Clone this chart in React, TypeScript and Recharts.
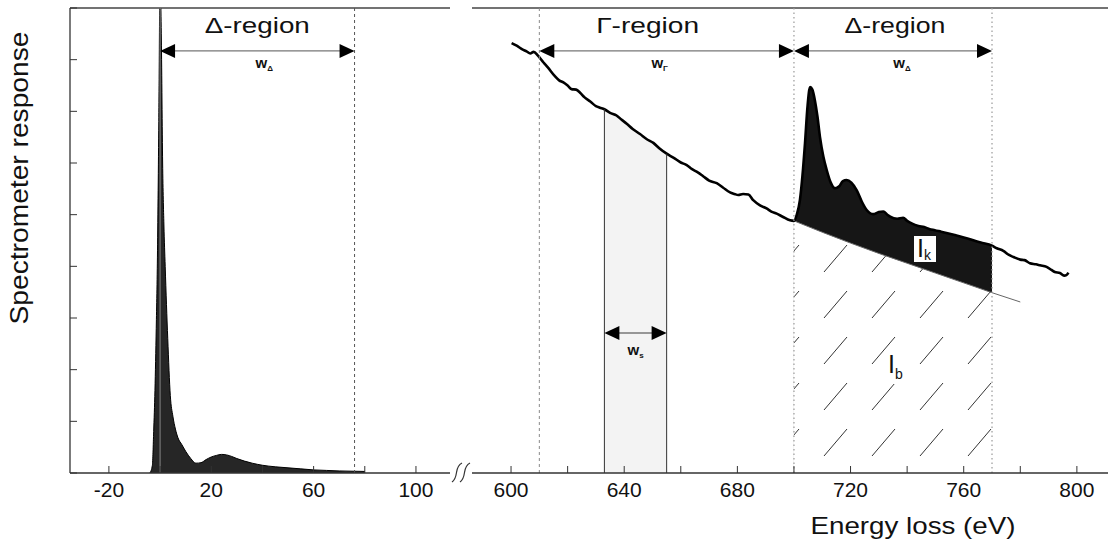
import React from "react";
import { Area, ComposedChart, Line, ReferenceLine, XAxis, YAxis } from "recharts";

const FONT = "Arial, 'Liberation Sans', Helvetica, sans-serif";

// low-loss part: zero-loss peak + plasmon
const lowLossE = [-4, -3, -2.5, -2, -1.5, -1, -0.5, 0, 0.5, 1, 1.5, 2, 3, 4, 5, 6, 7, 8.5, 10, 12, 14, 16, 18, 20, 22, 24, 26, 28, 30, 33, 36, 40, 45, 50, 55, 60, 65, 70, 75, 80];
const lowLossI = [0, 0.15, 0.8, 1.6, 2.8, 4.3, 6.8, 9.6, 8.4, 6.0, 4.8, 4.0, 2.6, 1.5, 1.1, 0.85, 0.68, 0.55, 0.42, 0.28, 0.19, 0.2, 0.26, 0.31, 0.34, 0.36, 0.35, 0.32, 0.28, 0.23, 0.19, 0.15, 0.12, 0.1, 0.08, 0.06, 0.05, 0.04, 0.035, 0.03];

// core-loss part around the edge
const coreE = [600.2, 602, 604, 605.5, 606.8, 608, 609.5, 611.4, 613, 615.5, 617, 618.5, 620, 621.4, 623, 624.4, 626, 628, 630, 631.4, 633, 635, 637.3, 639, 640.9, 643, 645.6, 648, 650.3, 652.5, 655, 657.5, 660, 662.1, 664, 666, 668, 670, 672.7, 675, 677.4, 679, 680.3, 682, 683.9, 685.6, 688, 690.3, 692, 693.9, 696, 698.6, 700, 701, 702.1, 703, 703.9, 704.8, 705.7, 706.5, 707.4, 708.3, 709.2, 710.4, 711.6, 713, 714.5, 716, 717.3, 718.6, 720.3, 722.2, 724, 725.7, 728, 730, 731.6, 733, 734, 736.5, 738.6, 740, 741.6, 744, 746, 748, 749.8, 752, 754.3, 757.2, 760, 763.1, 766, 770, 771.7, 774, 776, 777.6, 780, 781.5, 783.4, 785.5, 787, 789.3, 791, 792.2, 794, 795.5, 796.3, 797];
const coreI = [8.32, 8.27, 8.2, 8.16, 8.12, 8.15, 8.08, 7.95, 7.85, 7.68, 7.6, 7.56, 7.5, 7.43, 7.42, 7.36, 7.27, 7.19, 7.1, 7.07, 7.04, 6.97, 6.92, 6.84, 6.76, 6.66, 6.56, 6.46, 6.39, 6.28, 6.18, 6.1, 6.01, 5.96, 5.88, 5.82, 5.74, 5.66, 5.61, 5.52, 5.43, 5.4, 5.38, 5.4, 5.39, 5.28, 5.18, 5.12, 5.06, 5.02, 4.96, 4.89, 4.88, 5.0, 5.28, 5.75, 6.38, 7.1, 7.47, 7.42, 7.21, 6.9, 6.5, 6.12, 5.86, 5.62, 5.51, 5.55, 5.65, 5.67, 5.62, 5.47, 5.25, 5.09, 5.01, 5.05, 5.06, 5.0, 4.96, 4.92, 4.94, 4.88, 4.83, 4.78, 4.76, 4.72, 4.7, 4.67, 4.64, 4.6, 4.56, 4.51, 4.46, 4.4, 4.35, 4.3, 4.22, 4.18, 4.13, 4.12, 4.06, 4.04, 4.02, 3.99, 3.93, 3.89, 3.87, 3.82, 3.83, 3.88];

// extrapolated background under the edge
const bgE = [700, 710, 720, 730, 740, 750, 760, 770, 780];
const bgI = [4.88, 4.66, 4.45, 4.25, 4.06, 3.87, 3.68, 3.49, 3.31];

// axes
const lowTicks = [-20, 0, 20, 40, 60, 80, 100];
const lowTickLabels = [-20, 20, 60, 100];
const coreTicks = [600, 620, 640, 660, 680, 700, 720, 740, 760, 780, 800];
const coreTickLabels = [600, 640, 680, 720, 760, 800];
const yTicks = [0, 1, 2, 3, 4, 5, 6, 7, 8, 9];

// windows
const lowDelta = [0, 76];
const gammaWin = [610, 700];
const deltaWin = [700, 770];
const sampleWin = [633, 655];
const arrowY = 8.17;
const sampleArrowY = 2.71;

const lowData = lowLossE.map((e, i) => ({ e, v: lowLossI[i] }));
const coreData = coreE.map((e, i) => ({ e, v: coreI[i] }));
const bgData = bgE.map((e, i) => ({ e, v: bgI[i] }));
const edgeData = coreData.filter((d) => d.e >= deltaWin[0] && d.e <= deltaWin[1]);
const sampleData = coreData.filter((d) => d.e >= sampleWin[0] && d.e <= sampleWin[1]);
const bgUnder = bgData.filter((d) => d.e <= deltaWin[1]);
const valueAt = (e: number) => coreData.find((d) => d.e === e)?.v ?? 0;

const AXIS_Y = 473;

const makeTick = (labels: number[]) => (props: any) => {
  const { x, payload } = props;
  if (!labels.includes(payload.value)) return <g />;
  return (
    <text x={x} y={AXIS_Y + 24} textAnchor="middle" fontSize={21} fontFamily={FONT} fill="#111">
      {payload.value}
    </text>
  );
};

type ArrowOpts = { title?: string; titleDx?: number; titleLen?: number; sub: string; subDx?: number; subDy?: number };

function makeArrow(o: ArrowOpts) {
  return (p: any) => {
    const x1 = Math.min(p.x1, p.x2);
    const x2 = Math.max(p.x1, p.x2);
    const y = p.y1;
    const hl = 15;
    const hw = 7;
    const cx = (x1 + x2) / 2;
    return (
      <g>
        <line x1={x1 + hl - 1} x2={x2 - hl + 1} y1={y} y2={y} stroke="#777" strokeWidth={1.4} />
        <polygon points={`${x1},${y} ${x1 + hl},${y - hw} ${x1 + hl},${y + hw}`} fill="#000" />
        <polygon points={`${x2},${y} ${x2 - hl},${y - hw} ${x2 - hl},${y + hw}`} fill="#000" />
        {o.title && (
          <text x={cx + (o.titleDx ?? 0)} y={y - 17.5} textAnchor="middle" fontSize={22} fontFamily={FONT}
            textLength={o.titleLen} lengthAdjust="spacingAndGlyphs" fill="#111">
            {o.title}
          </text>
        )}
        <text x={cx + (o.subDx ?? 0)} y={y + (o.subDy ?? 17.5)} textAnchor="middle" fontFamily={FONT}
          fontWeight="bold" fontSize={15} fill="#111">
          w<tspan fontSize={8} dy={3}>{o.sub}</tspan>
        </text>
      </g>
    );
  };
}

const emptyTick = () => <g />;

export default function App() {
  return (
    <div style={{ position: "relative", width: 1108, height: 542, background: "#fff", fontFamily: FONT }}>
      <style>{"body{margin:0}"}</style>

      {/* low-loss panel */}
      <div style={{ position: "absolute", left: 0, top: 0 }}>
        <ComposedChart width={450} height={542} margin={{ top: 8, right: 0, bottom: 0, left: 0 }}>
          <XAxis type="number" dataKey="e" domain={[-35.2, 113.3]} allowDataOverflow ticks={lowTicks} interval={0}
            tickSize={-7} height={69} tick={makeTick(lowTickLabels)}
            axisLine={{ stroke: "#333", strokeWidth: 1.3 }} tickLine={{ stroke: "#333" }} />
          <YAxis type="number" domain={[0, 9]} allowDataOverflow ticks={yTicks} interval={0} width={70}
            tickSize={-7} tick={emptyTick} axisLine={{ stroke: "#333", strokeWidth: 1.3 }} tickLine={{ stroke: "#333" }} />
          <ReferenceLine y={9} stroke="#444" strokeWidth={1.3} />
          <Area data={lowData} dataKey="v" type="monotone" stroke="#000" strokeWidth={1} fill="#262626"
            fillOpacity={1} dot={false} activeDot={false} isAnimationActive={false} />
          <ReferenceLine x={lowDelta[0]} stroke="#888" strokeWidth={1} />
          <ReferenceLine x={lowDelta[1]} stroke="#555" strokeDasharray="3 3" strokeWidth={1} />
          <ReferenceLine segment={[{ x: lowDelta[0], y: arrowY }, { x: lowDelta[1], y: arrowY }]}
            shape={makeArrow({ title: "Δ-region", titleLen: 105, sub: "Δ", subDx: 7 })} />
        </ComposedChart>
      </div>

      {/* core-loss panel */}
      <div style={{ position: "absolute", left: 472, top: 0 }}>
        <ComposedChart width={636} height={542} margin={{ top: 8, right: 0, bottom: 0, left: 0 }}>
          <XAxis type="number" dataKey="e" domain={[586.2, 811]} allowDataOverflow ticks={coreTicks} interval={0}
            tickSize={-7} height={69} tick={makeTick(coreTickLabels)}
            axisLine={{ stroke: "#333", strokeWidth: 1.3 }} tickLine={{ stroke: "#333" }} />
          <YAxis hide type="number" domain={[0, 9]} allowDataOverflow />
          <ReferenceLine y={9} stroke="#444" strokeWidth={1.3} />
          <Area data={sampleData} dataKey="v" type="monotone" stroke="none" fill="#f3f3f3" fillOpacity={1}
            dot={false} activeDot={false} isAnimationActive={false} />
          <Area data={edgeData} dataKey="v" type="monotone" stroke="none" fill="#161616" fillOpacity={1}
            dot={false} activeDot={false} isAnimationActive={false} />
          <Area data={bgUnder} dataKey="v" type="monotone" stroke="none" fill="url(#hatchIb)" fillOpacity={1}
            dot={false} activeDot={false} isAnimationActive={false} />
          <Line data={bgData} dataKey="v" type="monotone" stroke="#666" strokeWidth={1} dot={false}
            activeDot={false} isAnimationActive={false} />
          <Line data={coreData} dataKey="v" type="monotone" stroke="#000" strokeWidth={2.6} dot={false}
            activeDot={false} isAnimationActive={false} />
          <ReferenceLine x={gammaWin[0]} stroke="#8a8a8a" strokeDasharray="3 3" strokeWidth={1} />
          <ReferenceLine x={deltaWin[0]} stroke="#999" strokeDasharray="1.5 3" strokeWidth={1.2} />
          <ReferenceLine x={deltaWin[1]} stroke="#999" strokeDasharray="1.5 3" strokeWidth={1.2} />
          <ReferenceLine segment={[{ x: sampleWin[0], y: 0 }, { x: sampleWin[0], y: valueAt(sampleWin[0]) }]}
            stroke="#333" strokeWidth={1} />
          <ReferenceLine segment={[{ x: sampleWin[1], y: 0 }, { x: sampleWin[1], y: valueAt(sampleWin[1]) }]}
            stroke="#333" strokeWidth={1} />
          <ReferenceLine segment={[{ x: gammaWin[0], y: arrowY }, { x: gammaWin[1], y: arrowY }]}
            shape={makeArrow({ title: "Γ-region", titleLen: 103, titleDx: -19, sub: "Γ", subDx: -7 })} />
          <ReferenceLine segment={[{ x: deltaWin[0], y: arrowY }, { x: deltaWin[1], y: arrowY }]}
            shape={makeArrow({ title: "Δ-region", titleLen: 101, titleDx: 2, sub: "Δ", subDx: 9 })} />
          <ReferenceLine segment={[{ x: sampleWin[0], y: sampleArrowY }, { x: sampleWin[1], y: sampleArrowY }]}
            shape={makeArrow({ sub: "s", subDx: 0, subDy: 22 })} />
        </ComposedChart>
      </div>

      {/* labels, break marks, patterns */}
      <svg width={1108} height={542} style={{ position: "absolute", left: 0, top: 0, pointerEvents: "none" }}>
        <defs>
          <pattern id="hatchIb" patternUnits="userSpaceOnUse" width={48} height={46} patternTransform="translate(6,4)">
            <rect width={48} height={46} fill="#fff" />
            <line x1={10} y1={38} x2={33} y2={11} stroke="#333" strokeWidth={1} />
          </pattern>
        </defs>

        <text transform="translate(28,178) rotate(-90)" textAnchor="middle" fontSize={25} fontFamily={FONT}
          textLength={293} lengthAdjust="spacingAndGlyphs" fill="#111">
          Spectrometer response
        </text>
        <text x={913} y={533.5} textAnchor="middle" fontSize={24} fontFamily={FONT}
          textLength={205} lengthAdjust="spacingAndGlyphs" fill="#111">
          Energy loss (eV)
        </text>

        {/* break marks on the energy axis */}
        <path d="M452 482 C455 480 456 476 456.5 472.5 C457 469 458 465 462 463" stroke="#333" strokeWidth={1.2} fill="none" />
        <path d="M460 482 C463 480 464 476 464.5 472.5 C465 469 466 465 470 463" stroke="#333" strokeWidth={1.2} fill="none" />

        {/* I_k label */}
        <rect x={914} y={236} width={22} height={26} fill="#fff" />
        <text x={917} y={257} fontSize={25} fontFamily={FONT} fill="#111">
          I<tspan fontSize={14} dy={3}>k</tspan>
        </text>

        {/* I_b label */}
        <rect x={884} y={350} width={26} height={34} fill="#fff" />
        <text x={888} y={373} fontSize={25} fontFamily={FONT} fill="#111">
          I<tspan fontSize={14} dy={6}>b</tspan>
        </text>
      </svg>
    </div>
  );
}
